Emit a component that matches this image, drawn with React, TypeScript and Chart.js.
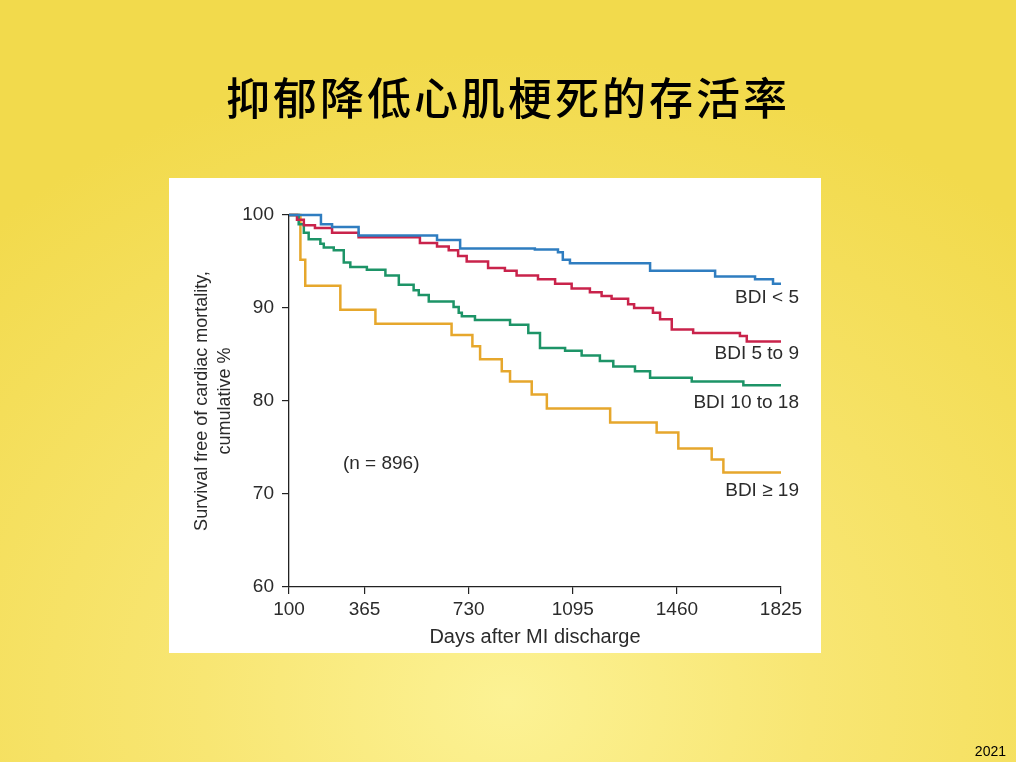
import React, { useEffect, useRef } from 'react';
import { Chart, registerables } from 'chart.js';

Chart.register(...registerables);

const FONT = '"Liberation Sans", Arial, Helvetica, sans-serif';

// x axis ticks (days after discharge)
const dayTicks = [100, 365, 730, 1095, 1460, 1825];

const seriesNames = ['BDI < 5', 'BDI 5 to 9', 'BDI 10 to 18', 'BDI ≥ 19'];
const seriesColors = ['#2f7dc0', '#c9234b', '#1d9467', '#e6a72c'];
// where each series label sits, in % survival
const labelValues = [91.1, 85.1, 79.8, 70.3];

// Kaplan-Meier steps
const lowDays = [100, 212, 251, 344, 619, 700, 962, 1043, 1060, 1085, 1366, 1594, 1734, 1797, 1825];
const lowValues = [100, 99.0, 98.7, 97.8, 97.3, 96.4, 96.3, 96.0, 95.2, 94.8, 94.0, 93.4, 93.1, 92.6, 92.6];

const midDays = [100, 128, 152, 191, 251, 344, 559, 619, 660, 693, 723, 798, 857, 898, 973, 1033, 1091, 1155, 1196, 1231, 1289, 1310, 1376, 1401, 1442, 1517, 1681, 1705, 1825];
const midValues = [100, 99.5, 98.9, 98.6, 98.1, 97.6, 97.0, 96.6, 96.2, 95.6, 95.0, 94.3, 94.0, 93.5, 93.1, 92.6, 92.1, 91.7, 91.3, 91.0, 90.4, 90.0, 89.5, 88.8, 87.7, 87.3, 87.0, 86.4, 86.4];

const highDays = [100, 134, 152, 169, 210, 222, 257, 292, 315, 373, 438, 485, 537, 555, 590, 677, 695, 706, 752, 875, 939, 980, 1068, 1126, 1190, 1237, 1313, 1366, 1512, 1693, 1825];
const highValues = [100, 99.0, 98.1, 97.4, 96.9, 96.5, 96.2, 94.9, 94.4, 94.1, 93.5, 92.5, 91.9, 91.4, 90.7, 90.1, 89.5, 89.1, 88.7, 88.2, 87.3, 85.7, 85.4, 84.9, 84.3, 83.7, 83.2, 82.5, 82.1, 81.7, 81.7];

const severeDays = [100, 140, 157, 280, 403, 670, 743, 770, 846, 875, 951, 1004, 1226, 1389, 1465, 1582, 1623, 1825];
const severeValues = [100, 95.2, 92.4, 89.8, 88.3, 87.1, 85.9, 84.5, 83.2, 82.1, 80.7, 79.2, 77.7, 76.6, 74.9, 73.7, 72.3, 72.3];

const allDays = [lowDays, midDays, highDays, severeDays];
const allValues = [lowValues, midValues, highValues, severeValues];

const sampleNote = '(n = 896)';
const noteDay = 289;
const noteValue = 73.2;

// draws the series names and the n= note inside the plot
const labelPlugin = {
  id: 'kmLabels',
  afterDraw(chart: any) {
    const { ctx, chartArea, scales } = chart;
    ctx.save();
    ctx.fillStyle = '#2b2b2b';
    ctx.font = `19px ${FONT}`;
    ctx.textBaseline = 'middle';
    ctx.textAlign = 'right';
    seriesNames.forEach((name, i) => {
      ctx.fillText(name, chartArea.right + 18, scales.y.getPixelForValue(labelValues[i]));
    });
    ctx.textAlign = 'left';
    ctx.fillText(sampleNote, scales.x.getPixelForValue(noteDay), scales.y.getPixelForValue(noteValue));
    ctx.restore();
  },
};

const SurvivalChart: React.FC = () => {
  const canvasRef = useRef<HTMLCanvasElement>(null);

  useEffect(() => {
    if (!canvasRef.current) return;
    const chart = new Chart(canvasRef.current, {
      type: 'line',
      data: {
        datasets: seriesNames.map((name, i) => ({
          label: name,
          data: allDays[i].map((d, j) => ({ x: d, y: allValues[i][j] })),
          borderColor: seriesColors[i],
          borderWidth: 2.5,
          pointRadius: 0,
          stepped: 'before' as const,
          fill: false,
          clip: false as any,
        })),
      },
      options: {
        responsive: false,
        animation: false,
        events: [],
        layout: { padding: { left: 0, right: 40, top: 37, bottom: 0 } },
        plugins: { legend: { display: false }, tooltip: { enabled: false } },
        scales: {
          x: {
            type: 'linear',
            min: 100,
            max: 1825,
            afterBuildTicks: (scale: any) => {
              scale.ticks = dayTicks.map((v) => ({ value: v }));
            },
            afterFit: (scale: any) => {
              scale.height = 66;
            },
            grid: { drawOnChartArea: false, drawTicks: true, tickLength: 7, color: '#222', lineWidth: 1.2 },
            border: { display: true, color: '#222', width: 1.3 },
            ticks: {
              color: '#2b2b2b',
              font: { family: FONT, size: 19 },
              padding: 4,
              maxRotation: 0,
              autoSkip: false,
              callback: (v: any) => String(v),
            },
            title: {
              display: true,
              text: 'Days after MI discharge',
              color: '#2b2b2b',
              font: { family: FONT, size: 20, lineHeight: 1.2 },
              padding: { top: 0, bottom: 4 },
            },
          },
          y: {
            min: 60,
            max: 100,
            afterFit: (scale: any) => {
              scale.width = 120;
            },
            grid: { drawOnChartArea: false, drawTicks: true, tickLength: 7, color: '#222', lineWidth: 1.2 },
            border: { display: true, color: '#222', width: 1.3 },
            ticks: { stepSize: 10, color: '#2b2b2b', font: { family: FONT, size: 19 }, padding: 8 },
            title: {
              display: true,
              text: ['Survival free of cardiac mortality,', 'cumulative %'],
              color: '#2b2b2b',
              font: { family: FONT, size: 18, lineHeight: 1.3 },
              padding: { top: 21, bottom: 0 },
            },
          },
        },
      },
      plugins: [labelPlugin],
    });
    return () => chart.destroy();
  }, []);

  return <canvas ref={canvasRef} width={652} height={475} style={{ display: 'block', width: 652, height: 475 }} />;
};

export default function App() {
  return (
    <div
      style={{
        position: 'fixed',
        left: 0,
        top: 0,
        width: 1016,
        height: 762,
        overflow: 'hidden',
        background: 'radial-gradient(ellipse 75% 85% at 50% 92%, #fcf294 0%, #f8e673 40%, #f2da4c 100%)',
      }}
    >
      <div
        style={{
          position: 'absolute',
          left: 0,
          width: 1016,
          top: 66,
          textAlign: 'center',
          fontFamily: '"Noto Sans CJK SC", sans-serif',
          fontSize: 44,
          fontWeight: 500,
          letterSpacing: 3,
          lineHeight: '60px',
          color: '#000',
        }}
      >
        抑郁降低心肌梗死的存活率
      </div>
      <div style={{ position: 'absolute', left: 169, top: 178, width: 652, height: 475, background: '#fff' }}>
        <SurvivalChart />
      </div>
      <div
        style={{
          position: 'absolute',
          right: 10,
          bottom: 3,
          fontFamily: FONT,
          fontSize: 14,
          color: '#000',
        }}
      >
        2021
      </div>
    </div>
  );
}
